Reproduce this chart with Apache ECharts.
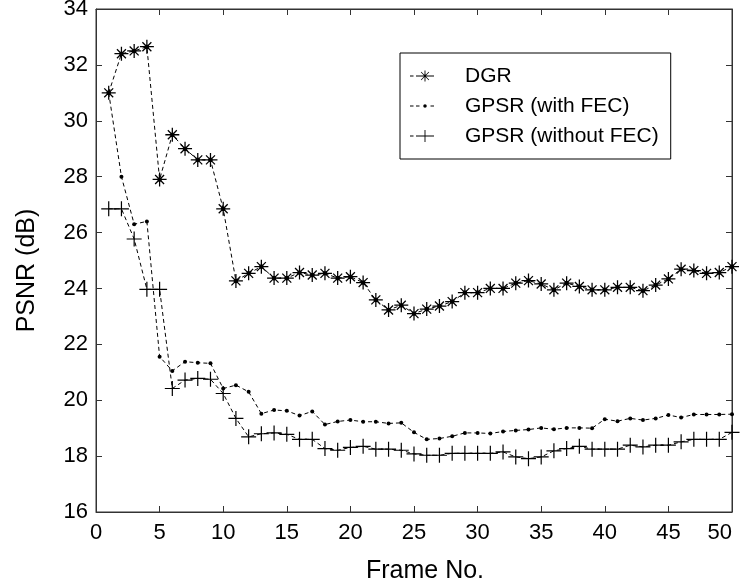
<!DOCTYPE html>
<html>
<head>
<meta charset="utf-8">
<title>PSNR per frame</title>
<script src="https://cdn.jsdelivr.net/npm/echarts@6/dist/echarts.min.js"></script>
<style>
  html, body { margin: 0; padding: 0; background: #fff; }
  #chart { width: 740px; height: 587px; }
</style>
</head>
<body>
<div id="chart"></div>
<script>
// frame numbers on the x axis
const frames = [1, 2, 3, 4, 5, 6, 7, 8, 9, 10, 11, 12, 13, 14, 15, 16, 17, 18, 19, 20,
  21, 22, 23, 24, 25, 26, 27, 28, 29, 30, 31, 32, 33, 34, 35, 36, 37, 38, 39, 40,
  41, 42, 43, 44, 45, 46, 47, 48, 49, 50];

// PSNR values (dB)
const dgr = [31.0, 32.4, 32.5, 32.65, 27.9, 29.5, 29.0, 28.6, 28.6, 26.85,
  24.27, 24.54, 24.78, 24.37, 24.37, 24.57, 24.48, 24.54, 24.37, 24.42,
  24.21, 23.59, 23.23, 23.4, 23.1, 23.26, 23.37, 23.53, 23.85, 23.85,
  24.0, 24.0, 24.19, 24.28, 24.16, 23.95, 24.19, 24.07, 23.95, 23.95,
  24.04, 24.04, 23.92, 24.12, 24.34, 24.69, 24.64, 24.54, 24.57, 24.78];

const gpsrWithFec = [31.0, 28.0, 26.3, 26.4, 21.56, 21.05, 21.38, 21.34, 21.32, 20.42,
  20.54, 20.3, 19.52, 19.65, 19.62, 19.45, 19.6, 19.13, 19.24, 19.29,
  19.23, 19.23, 19.17, 19.19, 18.85, 18.6, 18.63, 18.71, 18.83, 18.83,
  18.81, 18.88, 18.92, 18.95, 19.01, 18.96, 19.01, 19.01, 19.0, 19.32,
  19.25, 19.35, 19.29, 19.35, 19.47, 19.38, 19.49, 19.49, 19.49, 19.5];

const gpsrWithoutFec = [26.85, 26.85, 25.77, 23.97, 23.97, 20.42, 20.72, 20.78, 20.75, 20.24,
  19.35, 18.69, 18.8, 18.83, 18.78, 18.6, 18.6, 18.27, 18.21, 18.31,
  18.35, 18.25, 18.25, 18.21, 18.08, 18.03, 18.03, 18.1, 18.1, 18.1,
  18.1, 18.15, 17.97, 17.91, 17.97, 18.19, 18.27, 18.35, 18.25, 18.25,
  18.25, 18.39, 18.33, 18.39, 18.39, 18.51, 18.6, 18.6, 18.6, 18.85];

const seriesNames = ['DGR', 'GPSR (with FEC)', 'GPSR (without FEC)'];

// marker shapes (matlab style '*' and '+')
const STAR = 'path://M45.5 0h9v100h-9z M0 45.5h100v9h-100z ' +
  'M21.2 14.8L85.2 78.8L78.8 85.2L14.8 21.2z M85.2 21.2L21.2 85.2L14.8 78.8L78.8 14.8z ' +
  'M50 32L62.7 37.3L68 50L62.7 62.7L50 68L37.3 62.7L32 50L37.3 37.3z';
const PLUS = 'path://M46 0h8v100h-8z M0 46h100v8h-100z';

// legend icons: short dashed line with the marker in the middle (units = 0.1px)
const dashes = 'M0 65h35v10h-35z M60 65h35v10h-35z M205 65h35v10h-35z ';
const ICON_STAR = 'path://' + dashes +
  'M145.5 15h9v110h-9z M95 65.5h110v9h-110z ' +
  'M113 28L192 107L187 112L108 33z M192 33L113 112L108 107L187 28z ' +
  'M150 55L161 59L165 70L161 81L150 85L139 81L135 70L139 59z';
const ICON_DOT = 'path://' + dashes + 'M150 52L163 57L168 70L163 83L150 88L137 83L132 70L137 57z';
const ICON_PLUS = 'path://' + dashes + 'M145.5 10h9v120h-9z M90 65.5h120v9h-120z';

const narrow = "'Liberation Sans Narrow', 'Liberation Sans', Arial, sans-serif";
const regular = "'Liberation Sans', Arial, sans-serif";

const pairs = values => frames.map((f, i) => [f, values[i]]);

const lineSeries = (name, values, symbol, size) => ({
  name,
  type: 'line',
  data: pairs(values),
  symbol,
  symbolSize: size,
  showSymbol: true,
  animation: false,
  lineStyle: { color: '#000', width: 1, type: [4, 3] },
  itemStyle: { color: '#000' },
});

const axisLine = () => ({ show: true, onZero: false, lineStyle: { color: '#333', width: 1 } });
const tick = () => ({ show: true, inside: true, length: 6, lineStyle: { color: '#333' } });

const chart = echarts.init(document.getElementById('chart'));

chart.setOption({
  backgroundColor: '#fff',
  animation: false,
  grid: {
    left: 96, right: 8, top: 9, bottom: 75,
    show: true, borderColor: '#333', borderWidth: 1, backgroundColor: 'transparent',
    outerBoundsMode: 'none',
  },
  legend: {
    data: [
      { name: seriesNames[0], icon: ICON_STAR },
      { name: seriesNames[1], icon: ICON_DOT },
      { name: seriesNames[2], icon: ICON_PLUS },
    ],
    orient: 'vertical',
    left: 400,
    top: 53,
    padding: [12, 12, 12, 10],
    itemWidth: 24,
    itemHeight: 14,
    itemGap: 8,
    symbolKeepAspect: true,
    borderColor: '#000',
    borderWidth: 1,
    backgroundColor: '#fff',
    itemStyle: { color: '#000' },
    textStyle: { fontFamily: regular, fontSize: 21, color: '#000', lineHeight: 22, padding: [0, 0, 0, 26] },
  },
  xAxis: [
    {
      type: 'value', gridIndex: 0, min: 0, max: 50, interval: 5,
      name: 'Frame No.', nameLocation: 'middle', nameGap: 47,
      nameTextStyle: { fontFamily: regular, fontSize: 25, color: '#000', padding: [0, 0, 0, 22] },
      axisLine: axisLine(), axisTick: tick(), splitLine: { show: false },
      axisLabel: { fontFamily: narrow, fontSize: 22, color: '#000', margin: 10, alignMaxLabel: 'right' },
    },
    {
      type: 'value', gridIndex: 0, min: 0, max: 50, interval: 5, position: 'top', show: true,
      axisLine: axisLine(), axisTick: tick(), splitLine: { show: false }, axisLabel: { show: false },
    },
  ],
  yAxis: [
    {
      type: 'value', gridIndex: 0, min: 16, max: 34, interval: 2,
      name: 'PSNR (dB)', nameLocation: 'middle', nameGap: 56, nameRotate: 90,
      nameTextStyle: { fontFamily: regular, fontSize: 25, color: '#000', padding: [0, 0, 0, -20] },
      axisLine: axisLine(), axisTick: tick(), splitLine: { show: false },
      axisLabel: { fontFamily: narrow, fontSize: 22, color: '#000', margin: 8 },
    },
    {
      type: 'value', gridIndex: 0, min: 16, max: 34, interval: 2, position: 'right', show: true,
      axisLine: axisLine(), axisTick: tick(), splitLine: { show: false }, axisLabel: { show: false },
    },
  ],
  series: [
    lineSeries(seriesNames[0], dgr, STAR, 14),
    lineSeries(seriesNames[1], gpsrWithFec, 'circle', 4),
    lineSeries(seriesNames[2], gpsrWithoutFec, PLUS, 15),
  ],
});

window.addEventListener('resize', () => chart.resize());
</script>
</body>
</html>
